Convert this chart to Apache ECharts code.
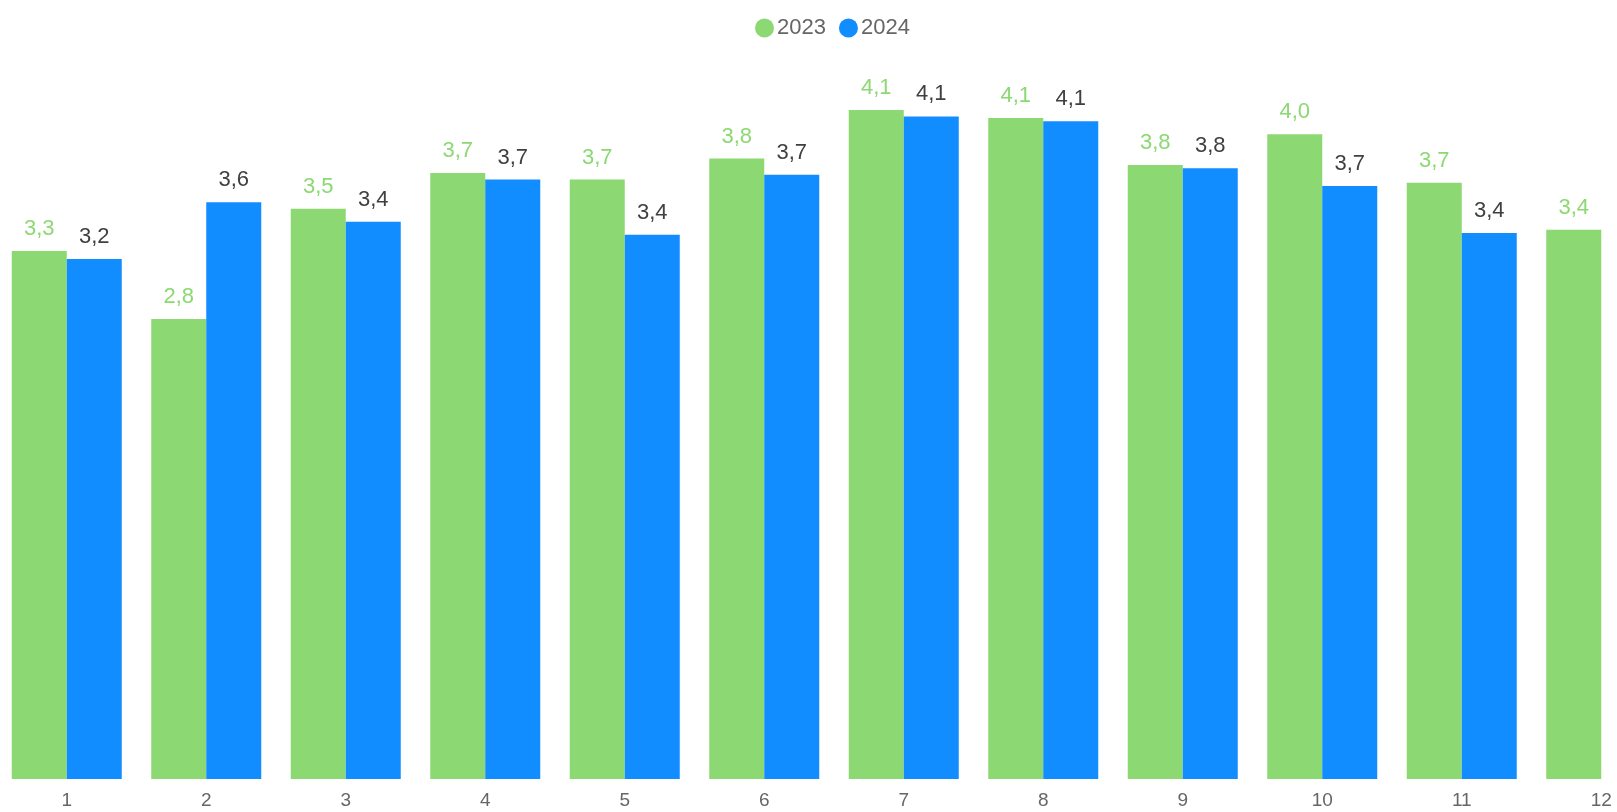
<!DOCTYPE html>
<html>
<head>
<meta charset="utf-8">
<script src="https://cdn.jsdelivr.net/npm/echarts@6/dist/echarts.min.js"></script>
<style>
html,body{margin:0;padding:0;background:#fff;}
#main{width:1617px;height:812px;}
</style>
</head>
<body>
<div id="main"></div>
<script>
const months = ['1','2','3','4','5','6','7','8','9','10','11','12'];
const values2023 = [3.26, 2.84, 3.52, 3.74, 3.70, 3.83, 4.13, 4.08, 3.79, 3.98, 3.68, 3.39];
const values2024 = [3.21, 3.56, 3.44, 3.70, 3.36, 3.73, 4.09, 4.06, 3.77, 3.66, 3.37, null];
const seriesNames = ['2023', '2024'];

const GREEN = '#8CD872';
const BLUE = '#118DFF';
const fmt = p => (p.value == null ? '' : p.value.toFixed(1).replace('.', ','));

const chart = echarts.init(document.getElementById('main'), null, {renderer: 'canvas'});
chart.setOption({
  animation: false,
  textStyle: {fontFamily: 'Liberation Sans, Arial, sans-serif'},
  legend: {
    data: seriesNames,
    left: 750,
    top: 12,
    icon: 'circle',
    itemWidth: 19,
    itemHeight: 19,
    itemGap: 13,
    textStyle: {fontSize: 22, color: '#666666', padding: [0, 0, 0, -2]}
  },
  grid: {
    left: -3,
    width: 1674,
    top: 50,
    bottom: 33,
    containLabel: false,
    outerBoundsMode: 'none'
  },
  xAxis: {
    type: 'category',
    data: months,
    axisLine: {show: false},
    axisTick: {show: false},
    axisLabel: {color: '#666666', fontSize: 19, margin: 12}
  },
  yAxis: {
    type: 'value',
    min: 0,
    max: 4.5,
    show: false,
    splitLine: {show: false}
  },
  series: [
    {
      name: seriesNames[0],
      type: 'bar',
      data: values2023,
      barWidth: 55,
      barGap: '0%',
      itemStyle: {color: GREEN},
      label: {show: true, position: 'top', distance: 11, color: GREEN, fontSize: 22, formatter: fmt}
    },
    {
      name: seriesNames[1],
      type: 'bar',
      data: values2024,
      barWidth: 55,
      barGap: '0%',
      itemStyle: {color: BLUE},
      label: {show: true, position: 'top', distance: 11, color: '#404040', fontSize: 22, formatter: fmt}
    }
  ]
});
</script>
</body>
</html>
